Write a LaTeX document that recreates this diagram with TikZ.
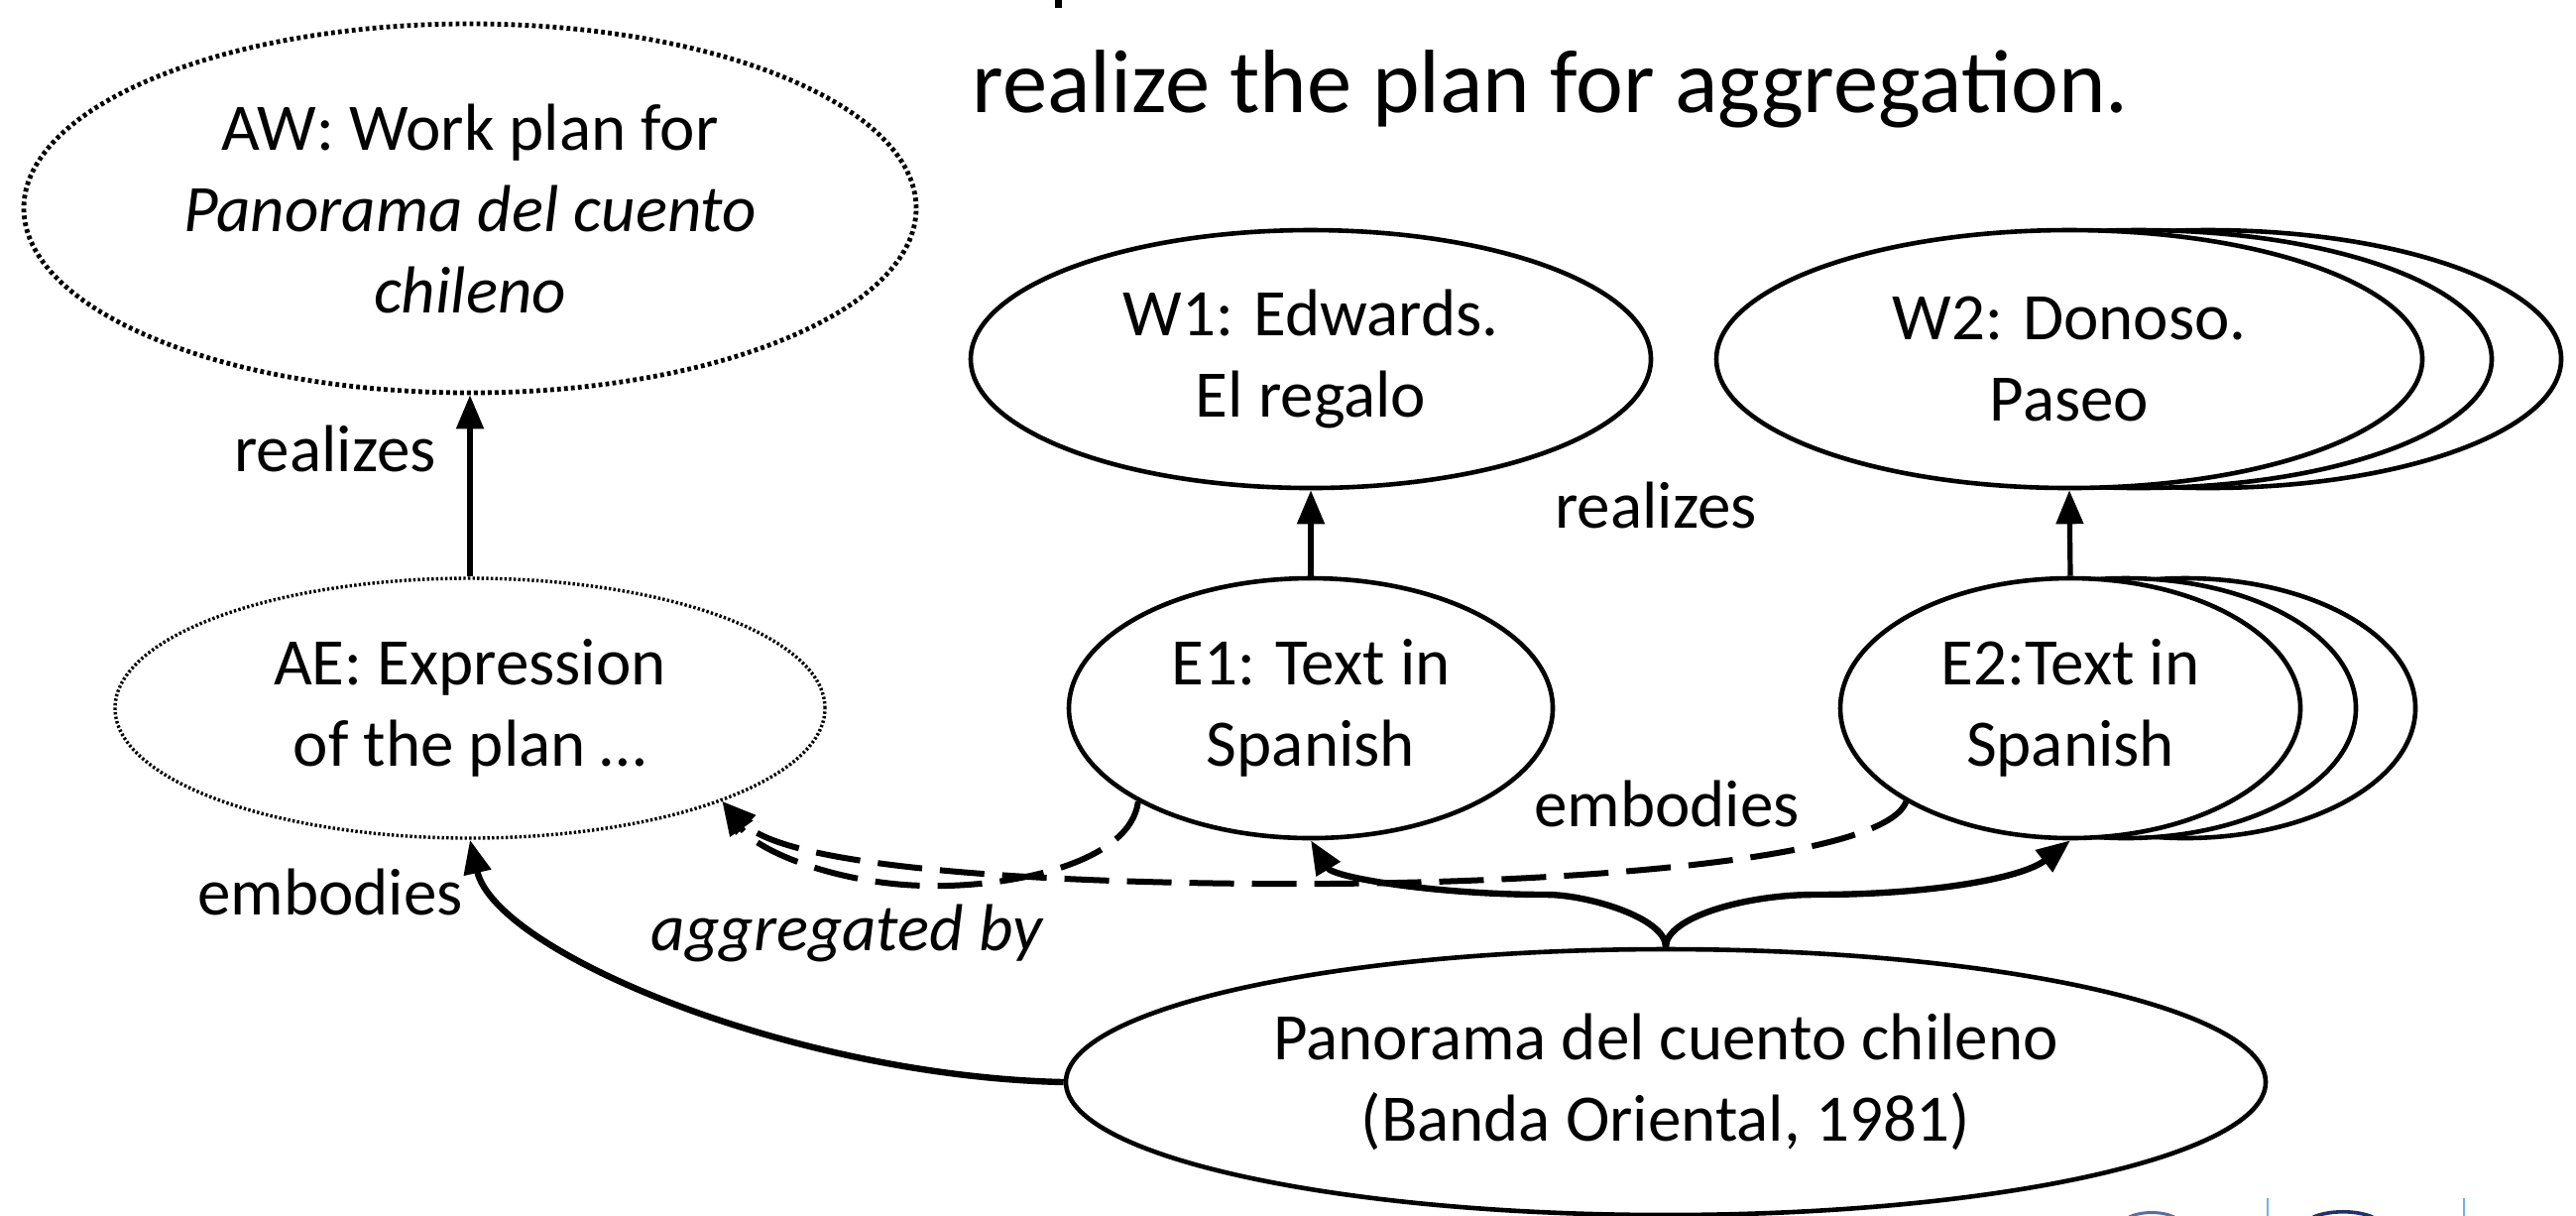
\documentclass[tikz,border=0pt]{standalone}
\usepackage{fontspec}
\setmainfont{Carlito}
\usetikzlibrary{arrows.meta,shapes.geometric}
\newcommand\dgbody{\fontsize{16.75pt}{20.5pt}\selectfont}
\newcommand\dgtitle{\fontsize{22.65pt}{27pt}\selectfont}
\definecolor{logolight}{RGB}{110,175,240}
\definecolor{logomid}{RGB}{90,110,160}
\definecolor{logodark}{RGB}{30,50,110}
\begin{document}
\begin{tikzpicture}[x=0.25pt,y=-0.25pt,
  ell/.style={draw, ellipse, line width=1.15pt, inner sep=0pt, align=center, font=\dgbody, fill=white},
  dotell/.style={ell, line width=1.2pt, dash pattern=on 0.95pt off 0.8pt},
  fineell/.style={ell, line width=0.85pt, dash pattern=on 0.6pt off 0.55pt},
  lbl/.style={font=\dgbody, anchor=base, inner sep=0pt},
  tip/.style={-{Triangle[length=8.5pt,width=6.75pt]}},
  relarrow/.style={tip, line width=1.3pt},
  curvearrow/.style={tip, line width=1.6pt},
  aggarrow/.style={tip, line width=1.5pt, dash pattern=on 11.25pt off 4.5pt}
]
\useasboundingbox (0,0) rectangle (2598,1225);

% title fragment and title
\draw[line width=1.8pt] (1067.5,-4) -- (1067.5,8);
\node[font=\dgtitle, anchor=base west, inner sep=0pt] (title) at (980,113) {realize the plan for aggregation.};

% aggregate work / expression
\node[dotell, minimum width=225pt, minimum height=93pt] (AW) at (474,210)
  {AW: Work plan for\\\textit{Panorama del cuento}\\\textit{chileno}};
\node[fineell, minimum width=179pt, minimum height=65.5pt] (AE) at (474,714)
  {AE: Expression\\of the plan …};

% W1 / E1
\node[ell, minimum width=171.5pt, minimum height=65pt] (W1) at (1322,362) {W1: Edwards.\\El regalo};
\node[ell, minimum width=122pt, minimum height=65.5pt] (E1) at (1322,714) {E1: Text in\\Spanish};

% W2 stack
\node[ell, minimum width=178pt, minimum height=65pt] (W2c) at (2227,362) {};
\node[ell, minimum width=178pt, minimum height=65pt] (W2b) at (2157,362) {};
\node[ell, minimum width=178pt, minimum height=65pt] (W2) at (2087,362) {W2: Donoso.\\Paseo};

% E2 stack
\node[ell, minimum width=116pt, minimum height=65.5pt] (E2c) at (2204,714) {};
\node[ell, minimum width=116pt, minimum height=65.5pt] (E2b) at (2144,714) {};
\node[ell, minimum width=116pt, minimum height=65.5pt] (E2) at (2088,714) {E2:Text in\\Spanish};

% manifestation
\node[ell, minimum width=302.5pt, minimum height=67pt] (M) at (1680,1091)
  {Panorama del cuento chileno\\(Banda Oriental, 1981)};

% realizes arrows
\draw[relarrow] (AE.north) -- (AW.south);
\draw[relarrow] (E1.north) -- (W1.south);
\draw[relarrow] (E2.north) -- (W2.south);

% embodies arrows
\draw[curvearrow] (M.west) .. controls (800,1085) and (500,960) .. (AE.south);
\draw[curvearrow] (M.north) .. controls (1680,925) and (1600,902) .. (1560,902)
  .. controls (1450,902) and (1345,885) .. (E1.south);
\draw[curvearrow] (M.north) .. controls (1680,925) and (1760,902) .. (1830,902)
  .. controls (1950,902) and (2040,885) .. (E2.south);

% aggregated by (dashed)
\draw[aggarrow] (E1.south west) .. controls (1140,870) and (1020,895) .. (935,893)
  .. controls (850,892) and (765,860) .. (AE.south east);
\draw[aggarrow] (E2.south west) .. controls (1900,870) and (1550,893) .. (1270,891)
  .. controls (1000,889) and (790,870) .. (AE.south east);

% labels
\node[lbl] (lr1) at (338,475) {realizes};
\node[lbl] (lr2) at (1670,532) {realizes};
\node[lbl] (le1) at (333,922) {embodies};
\node[lbl] (le2) at (1681,833) {embodies};
\node[lbl, font=\dgbody\itshape] (lag) at (854,958) {aggregated by};

% logo fragments at the bottom edge
\draw[logolight, line width=0.5pt] (2287,1208) -- (2287,1226);
\draw[logolight, line width=0.5pt] (2485,1208) -- (2485,1226);
\draw[logomid, line width=0.75pt] (2147,1227) .. controls (2160,1221) and (2180,1221) .. (2193,1227);
\draw[logodark, line width=0.9pt] (2333,1227) .. controls (2350,1220) and (2376,1220) .. (2393,1227);
\end{tikzpicture}
\end{document}
